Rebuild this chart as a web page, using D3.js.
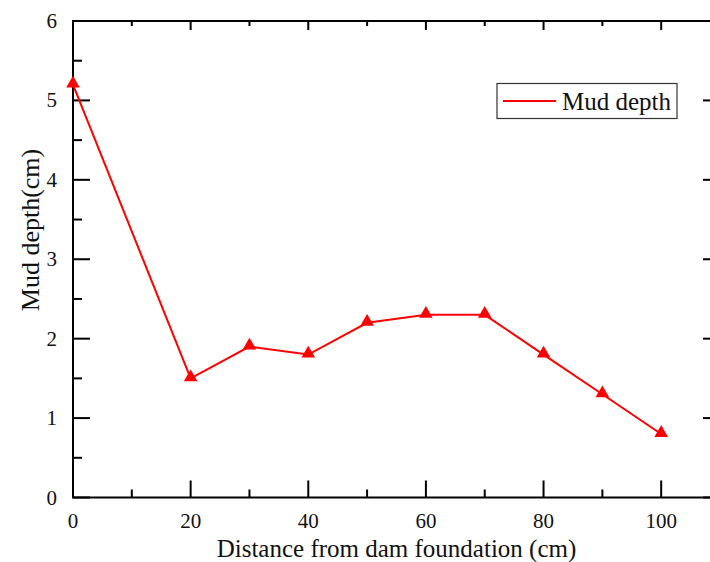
<!DOCTYPE html>
<html>
<head>
<meta charset="utf-8">
<script src="https://cdn.jsdelivr.net/npm/d3@7"></script>
<style>
  body { margin: 0; background: #fff; }
  text { font-family: "Liberation Serif", "Times New Roman", serif; fill: #111; }
</style>
</head>
<body>
<svg id="chart" width="710" height="562"></svg>
<script>
// data
var distances = [0, 20, 30, 40, 50, 60, 70, 80, 90, 100];
var depths = [5.2, 1.5, 1.9, 1.8, 2.2, 2.3, 2.3, 1.8, 1.3, 0.8];
var xTicks = [0, 20, 40, 60, 80, 100];
var yTicks = [0, 1, 2, 3, 4, 5, 6];
var seriesName = "Mud depth";

var svg = d3.select("#chart"),
    plotLeft = 73, plotRight = 720, plotTop = 21, plotBottom = 497.5;

var x = d3.scaleLinear().domain([0, 110]).range([plotLeft, plotRight]);
var y = d3.scaleLinear().domain([0, 6]).range([plotBottom, plotTop]);

var minorX = d3.range(10, 110, 20);
var minorY = d3.range(0.5, 6, 1);

// frame
svg.append("rect")
    .attr("x", plotLeft).attr("y", plotTop)
    .attr("width", plotRight - plotLeft).attr("height", plotBottom - plotTop)
    .attr("fill", "none").attr("stroke", "#000").attr("stroke-width", 2);

var ticks = svg.append("g").attr("stroke", "#000").attr("stroke-width", 2);

function tickLines(vals, fn) {
    ticks.append("g").selectAll("line").data(vals).enter().append("line").each(fn);
}

// bottom axis
tickLines(xTicks, function(d) { d3.select(this).attr("x1", x(d)).attr("x2", x(d)).attr("y1", plotBottom).attr("y2", plotBottom - 17); });
tickLines(minorX, function(d) { d3.select(this).attr("x1", x(d)).attr("x2", x(d)).attr("y1", plotBottom).attr("y2", plotBottom - 8); });
// top axis
tickLines(xTicks, function(d) { d3.select(this).attr("x1", x(d)).attr("x2", x(d)).attr("y1", plotTop).attr("y2", plotTop + 9); });
tickLines(minorX, function(d) { d3.select(this).attr("x1", x(d)).attr("x2", x(d)).attr("y1", plotTop).attr("y2", plotTop + 5); });
// left axis
tickLines(yTicks, function(d) { d3.select(this).attr("x1", plotLeft).attr("x2", plotLeft + 17).attr("y1", y(d)).attr("y2", y(d)); });
tickLines(minorY, function(d) { d3.select(this).attr("x1", plotLeft).attr("x2", plotLeft + 9).attr("y1", y(d)).attr("y2", y(d)); });
// right axis
tickLines(yTicks, function(d) { d3.select(this).attr("x1", plotRight).attr("x2", plotRight - 17).attr("y1", y(d)).attr("y2", y(d)); });
tickLines(minorY, function(d) { d3.select(this).attr("x1", plotRight).attr("x2", plotRight - 9).attr("y1", y(d)).attr("y2", y(d)); });

// tick labels
svg.append("g").selectAll("text").data(xTicks).enter().append("text")
    .attr("x", function(d) { return x(d); })
    .attr("y", 528)
    .attr("text-anchor", "middle")
    .style("font-size", "21px")
    .text(function(d) { return d; });

svg.append("g").selectAll("text").data(yTicks).enter().append("text")
    .attr("x", 57)
    .attr("y", function(d) { return y(d) + 7; })
    .attr("text-anchor", "end")
    .style("font-size", "21px")
    .text(function(d) { return d; });

// axis titles
svg.append("text")
    .attr("x", (plotLeft + plotRight) / 2)
    .attr("y", 557)
    .attr("text-anchor", "middle")
    .style("font-size", "25px")
    .text("Distance from dam foundation (cm)");

svg.append("text")
    .attr("transform", "translate(39,230) rotate(-90)")
    .attr("text-anchor", "middle")
    .style("font-size", "26px")
    .text("Mud depth(cm)");

// series
var pts = distances.map(function(d, i) { return [d, depths[i]]; });

svg.append("path")
    .datum(pts)
    .attr("fill", "none")
    .attr("stroke", "#ff0000")
    .attr("stroke-width", 2)
    .attr("d", d3.line()
        .x(function(d) { return x(d[0]); })
        .y(function(d) { return y(d[1]); }));

var tri = d3.symbol().type(d3.symbolTriangle).size(80);
svg.append("g").selectAll("path").data(pts).enter().append("path")
    .attr("d", tri)
    .attr("transform", function(d) { return "translate(" + x(d[0]) + "," + (y(d[1]) - 1) + ")"; })
    .attr("fill", "#ff0000");

// legend
var legend = svg.append("g");
legend.append("rect")
    .attr("x", 497).attr("y", 83.5)
    .attr("width", 180).attr("height", 35)
    .attr("fill", "#fff").attr("stroke", "#333").attr("stroke-width", 1.2);
legend.append("line")
    .attr("x1", 503).attr("x2", 556)
    .attr("y1", 101).attr("y2", 101)
    .attr("stroke", "#ff0000").attr("stroke-width", 2);
legend.append("text")
    .attr("x", 562).attr("y", 110)
    .style("font-size", "25px")
    .text(seriesName);
</script>
</body>
</html>
